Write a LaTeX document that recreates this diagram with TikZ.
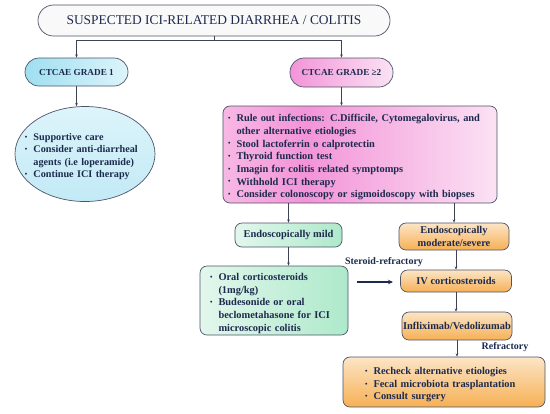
\documentclass[tikz,border=0pt]{standalone}
\usepackage{fontspec}
\setmainfont{Liberation Serif}
\usetikzlibrary{arrows.meta,calc,shapes.geometric}
\definecolor{navy}{HTML}{1D2A4E}
\definecolor{bordc}{HTML}{4E5468}
\definecolor{cyanA}{HTML}{9FDFF0}
\definecolor{cyanB}{HTML}{DDF4FA}
\definecolor{cyanC}{HTML}{C2EAF6}
\definecolor{pinkA}{HTML}{F394D8}
\definecolor{pinkB}{HTML}{FBE2F4}
\definecolor{pinkL}{HTML}{F7B8E4}
\definecolor{greenA}{HTML}{E2F7EC}
\definecolor{greenB}{HTML}{AEE9CB}
\definecolor{orA}{HTML}{F6B055}
\definecolor{orB}{HTML}{FCE5C6}
\pgfdeclarehorizontalshading{pinksh}{100bp}{color(0bp)=(pinkL); color(25bp)=(pinkL); color(40bp)=(pinkA); color(75bp)=(pinkB); color(100bp)=(pinkB)}
\newcommand{\itemb}[1]{\par\noindent\hyphenpenalty=10000\hangindent=8.5bp\hangafter=1\makebox[8.5bp][l]{\raisebox{1.2bp}{\fontsize{7bp}{7bp}\selectfont •}}#1\par}
\tikzset{
  fs/.style={font=\fontsize{10.4bp}{12.7bp}\selectfont\bfseries},
  box/.style={draw=bordc, line width=0.7pt, rounded corners=7bp, text=navy, fs, inner sep=0pt, align=center},
  stad/.style={box, rounded corners=14bp, font=\fontsize{9.2bp}{11bp}\selectfont\bfseries},
  orbox/.style={box, top color=orB, bottom color=orA},
  conn/.style={draw=bordc!80!black, line width=0.6pt, -{Stealth[length=3.2pt,width=2.6pt]}},
  lab/.style={text=navy, font=\fontsize{10bp}{12bp}\selectfont\bfseries, inner sep=0pt}
}
\begin{document}
\begin{tikzpicture}[x=1bp,y=-1bp]
\useasboundingbox (0,0) rectangle (550,413);
\fill[white] (0,0) rectangle (550,413);
% title
\node[draw=bordc, line width=0.7pt, rounded corners=15.5bp, fill=gray!5, text=navy,
      font=\fontsize{13.4bp}{15bp}\selectfont, minimum width=352bp, minimum height=31bp, inner sep=0pt]
  (top) at (214,20.5) {SUSPECTED ICI-RELATED DIARRHEA / COLITIS};
% grades
\node[stad, left color=cyanA, right color=cyanB, minimum width=103bp, minimum height=28bp] (g1) at (76.5,72) {CTCAE GRADE 1};
\node[stad, left color=pinkA, right color=pinkB, minimum width=103bp, minimum height=29bp] (g2) at (341.5,72.5) {CTCAE GRADE ≥2};
% ellipse
\node[ellipse, draw=bordc, line width=0.7pt, top color=cyanB, bottom color=cyanC, text=navy,
      font=\fontsize{10.2bp}{12.2bp}\selectfont\bfseries,
      minimum width=140bp, minimum height=95bp, inner xsep=-12bp, inner ysep=0pt, text width=120bp, align=left]
  (ell) at (85,154) {\itemb{Supportive care}\itemb{Consider anti-diarrheal\newline agents (i.e loperamide)}\itemb{Continue ICI therapy}};
% pink box
\node[box, shading=pinksh, minimum width=274bp, minimum height=97bp, inner xsep=5bp, text width=264bp, align=left]
  (pink) at (360,154.5) {\itemb{Rule out infections: C.Difficile, Cytomegalovirus, and\newline other alternative etiologies}\itemb{Stool lactoferrin o calprotectin}\itemb{Thyroid function test}\itemb{Imagin for colitis related symptomps}\itemb{Withhold ICI therapy}\itemb{Consider colonoscopy or sigmoidoscopy with biopses}};
% second level
\node[box, left color=greenA, right color=greenB, minimum width=107bp, minimum height=24bp] (mild) at (288.5,235) {Endoscopically mild};
\node[orbox, minimum width=110bp, minimum height=27bp] (mod) at (454,236.5) {Endoscopically\\moderate/severe};
% green box
\node[box, left color=greenA, right color=greenB, minimum width=148bp, minimum height=69bp, inner xsep=10bp, text width=128bp, align=left]
  (green) at (274,300.5) {\itemb{Oral corticosteroids\newline(1mg/kg)}\itemb{Budesonide or oral\newline beclometahasone for ICI\newline microscopic colitis}};
% orange chain
\node[orbox, minimum width=111bp, minimum height=22bp] (iv) at (456,281) {IV corticosteroids};
\node[orbox, minimum width=110bp, minimum height=28bp] (inf) at (457,326) {Infliximab/Vedolizumab};
\node[orbox, minimum width=202bp, minimum height=50bp, inner xsep=22bp, text width=158bp, align=left]
  (bot) at (444,382) {\itemb{Recheck alternative etiologies}\itemb{Fecal microbiota trasplantation}\itemb{Consult surgery}};
% labels
\node[lab] (sr) at (384,262) {Steroid-refractory};
\node[lab] (rf) at (505,347) {Refractory};
% connectors
\draw[conn] (top.south) -- ++(0,4) -| (g1.north);
\draw[conn] (top.south) -- ++(0,4) -| (g2.north);
\draw[conn] (g1.south) -- (g1.south |- ell.north);
\draw[conn] (g2.south) -- (g2.south |- pink.north);
\draw[conn] (mild.north |- pink.south) -- (mild.north);
\draw[conn] (mod.north |- pink.south) -- (mod.north);
\draw[conn] (mild.south) -- (mild.south |- green.north);
\draw[conn] (iv.north |- mod.south) -- (iv.north);
\draw[conn] (iv.south) -- (iv.south |- inf.north);
\draw[conn] (inf.south) -- (inf.south |- bot.north);
\coordinate (sa) at (357,282);
\coordinate (sb) at (393,282);
\draw[navy, line width=1.3pt, -{Stealth[length=5pt,width=4.5pt]}] (sa) -- (sb);
\end{tikzpicture}
\end{document}
